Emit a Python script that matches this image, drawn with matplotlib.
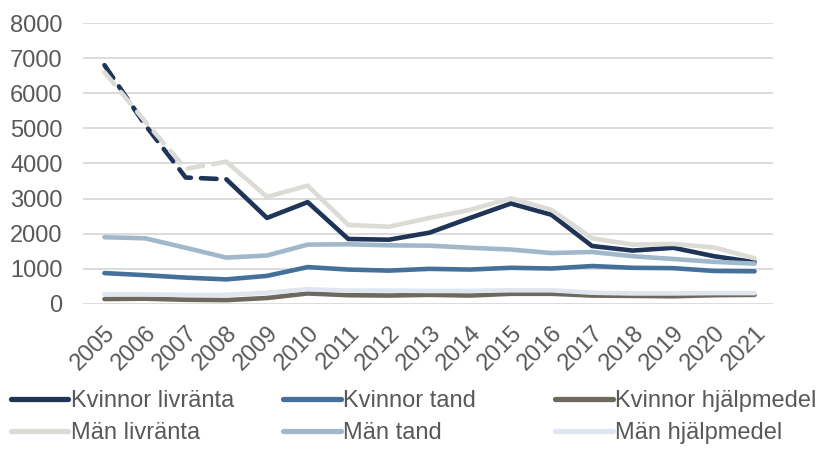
import matplotlib.pyplot as plt
from matplotlib.lines import Line2D

years = list(range(2005, 2022))

kvinnor_livranta = [6800, 5100, 3600, 3550, 2450, 2900, 1850, 1830, 2030, 2450, 2860, 2540, 1650, 1520, 1600, 1360, 1190]
kvinnor_tand = [880, 820, 750, 700, 800, 1050, 980, 950, 1000, 980, 1030, 1010, 1080, 1030, 1020, 940, 930]
kvinnor_hjalpmedel = [140, 150, 120, 110, 170, 300, 250, 240, 260, 240, 290, 290, 240, 230, 220, 250, 260]
man_livranta = [6600, 5200, 3850, 4050, 3050, 3370, 2250, 2200, 2450, 2680, 3010, 2680, 1870, 1690, 1710, 1610, 1300]
man_tand = [1900, 1870, 1600, 1320, 1380, 1690, 1700, 1670, 1660, 1600, 1550, 1450, 1480, 1360, 1280, 1200, 1150]
man_hjalpmedel = [280, 270, 260, 260, 320, 420, 380, 380, 370, 370, 390, 390, 320, 300, 300, 310, 310]

labels = ["Kvinnor livränta", "Kvinnor tand", "Kvinnor hjälpmedel",
          "Män livränta", "Män tand", "Män hjälpmedel"]
colors = ["#1f3557", "#45709a", "#6e685d", "#dcdbd6", "#a1b8cb", "#dfe6ef"]
series = [kvinnor_livranta, kvinnor_tand, kvinnor_hjalpmedel,
          man_livranta, man_tand, man_hjalpmedel]
dashed_until = 2008  # livränta series dashed for the first years

plt.rcParams['font.family'] = ['Liberation Sans', 'DejaVu Sans']
fig = plt.figure(figsize=(8.17, 4.51), dpi=100)
ax = fig.add_axes([0.102, 0.326, 0.844, 0.623])

lw = 3.3
for i in range(6):
    vals = series[i]
    if 'livränta' in labels[i]:
        k = years.index(dashed_until)
        ax.plot(years[:k + 1], vals[:k + 1], color=colors[i], lw=lw,
                dashes=(3.4, 2.2), dash_capstyle='round', zorder=3)
        ax.plot(years[k:], vals[k:], color=colors[i], lw=lw,
                solid_capstyle='round', zorder=3)
    else:
        ax.plot(years, vals, color=colors[i], lw=lw, solid_capstyle='round', zorder=3)

ax.set_xlim(2004.48, 2021.45)
ax.set_ylim(0, 8000)
ax.set_yticks(range(0, 8001, 1000))
ax.set_xticks(years)
ax.set_xticklabels([str(y) for y in years], rotation=45, ha='right',
                   rotation_mode='anchor')
ax.grid(axis='y', color='#d9d9d9', lw=1.3, zorder=0)
ax.set_axisbelow(True)
for s in ax.spines.values():
    s.set_visible(False)
ax.tick_params(axis='both', length=0, labelsize=17, colors='#595959')
ax.tick_params(axis='y', pad=15)
ax.tick_params(axis='x', pad=13)

col_x = [0.013, 0.346, 0.679]
for c in range(3):
    hs = []
    for i in (c, c + 3):
        hs.append(Line2D([], [], color=colors[i], lw=3.8, solid_capstyle='round'))
    fig.legend(hs, [labels[c], labels[c + 3]], loc='upper left',
               bbox_to_anchor=(col_x[c], 0.135), frameon=False,
               fontsize=17, handlelength=2.45, handletextpad=0.1,
               labelspacing=0.42, borderpad=0, borderaxespad=0,
               labelcolor='#595959')

fig.savefig('out.png', dpi=100)
